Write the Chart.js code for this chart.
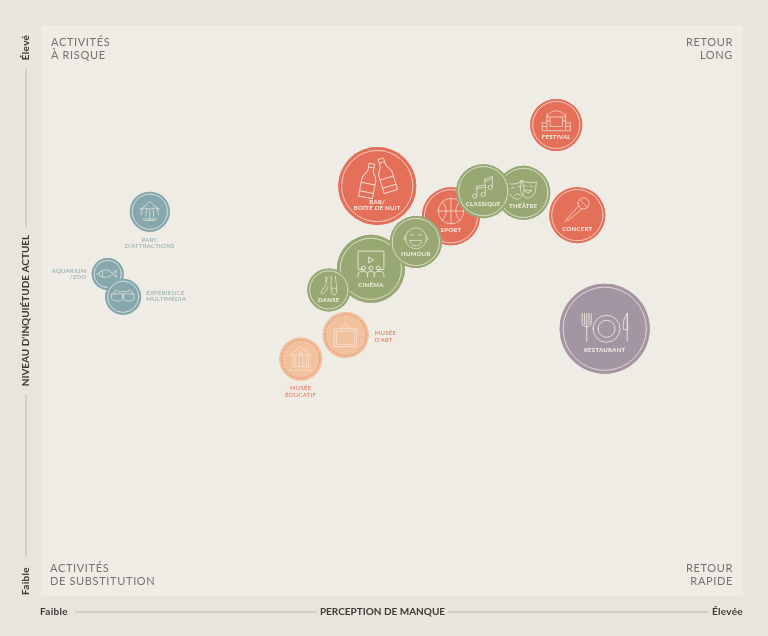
<!DOCTYPE html>
<html><head><meta charset="utf-8">
<style>html,body{margin:0;padding:0;background:#e9e5dd}canvas{display:block}</style>
<script src="https://cdn.jsdelivr.net/npm/chart.js@4"></script>
</head><body><canvas id="c" width="768" height="636"></canvas>
<script>
// Series, in paint order inside each group
const greenNames = ["THÉÂTRE","CLASSIQUE","CINÉMA","HUMOUR","DANSE"];
const greenX = [68.7,63.0,47.0,53.4,41.0];
const greenY = [70.6,70.9,57.3,62.0,53.6];
const greenR = [27,27,34,26,21.5];
const redNames = ["FESTIVAL","BAR/\nBOÎTE DE NUIT","SPORT","CONCERT"];
const redX = [73.4,47.9,58.4,76.4];
const redY = [82.5,71.8,66.5,66.7];
const redR = [26,39,29,28];
const blueNames = ["PARC\nD'ATTRACTIONS","AQUARIUM\n/ZOO","EXPÉRIENCE\nMULTIMÉDIA"];
const blueX = [15.5,9.5,11.7];
const blueY = [67.3,56.4,52.4];
const blueR = [20,16,18];
const orangeNames = ["MUSÉE\nD'ART","MUSÉE\nÉDUCATIF"];
const orangeX = [43.4,37.0];
const orangeY = [45.7,41.5];
const orangeR = [23,21.5];
const purpleNames = ["RESTAURANT"];
const purpleX = [80.3];
const purpleY = [46.8];
const purpleR = [45];

const FONT = 'Lato, "Open Sans", sans-serif';
const series = (names,xs,ys,rs,color) => ({
  names, backgroundColor:color, borderWidth:0, hoverRadius:0,
  data: names.map((n,i)=>({x:xs[i],y:ys[i],r:rs[i]}))
});
const circ=(x,y,r)=>`M${x-r} ${y}a${r} ${r} 0 1 0 ${2*r} 0a${r} ${r} 0 1 0 ${-2*r} 0Z`;
const bottle="M-3.5 -22H3.5V-13C3.5 -9 9 -7 9 -1V22H-9V-1C-9 -7 -3.5 -9 -3.5 -13Z M-9 4H9M-9 15H9M-3.5 -17H3.5";
const mask="M-14 -13C-5 -9 5 -9 14 -13V2C14 12 6 18 0 19C-6 18 -14 12 -14 2Z M-9 -3q3 -3 6 0M3 -3q3 -3 6 0";
// Decorative glyphs, in a space where the bubble radius is 50: [path, dx, dy, rotation]
const icons = {
 "FESTIVAL":[["M-18 -16C-10 -31 10 -31 18 -16ZM-18 -22V8M18 -22V8M-12 -14V3H12V-14M-27 -4H-18M18 -4H27M-27 -4V11H27V-4M-27 3H-18M18 3H27M-18 -8H-13M13 -8H18",0,0,0]],
 "BAR/\nBOÎTE DE NUIT":[[bottle,-11,-7,11],[bottle,11,-14,-17]],
 "SPORT":[[circ(0,-9,22)+"M0 -31V13M-22 -9H22M-15 -25C-6 -15 -6 -3 -15 7M15 -25C6 -15 6 -3 15 7",0,0,0]],
 "CONCERT":[[circ(11,-21,10)+"M4 -28L18 -14M3 -17L-19 7L-17 10L8 -11M-19 8L-23 12",0,0,0]],
 "THÉÂTRE":[[mask+"M-5 12Q0 6 5 12",-13,-7,-10],[mask+"M-7 5Q0 13 7 5Z",9,-9,6]],
 "CLASSIQUE":[[circ(-16,9,4)+circ(0,6,4)+circ(13,-7,4)+"M-12 9V-9M4 6V-11M-12 -9L4 -11M-12 -5L4 -7M17 -7V-27M3 -22L17 -27M3 -18L17 -23M3 -22V-12",0,0,0]],
 "HUMOUR":[[circ(0,-7,20)+"M-11 -13q4 -4 7 0M4 -13q4 -4 7 0M-11 -3H11C11 11 -11 11 -11 -3ZM-20 -12a5 5 0 0 0 0 9M20 -12a5 5 0 0 1 0 9",0,0,0]],
 "CINÉMA":[["M-10 1H-19V-26H19V1H10M-3 -17L4 -13L-3 -9Z"+circ(-11,-1,3)+circ(0,-1,3)+circ(11,-1,3)+"M-19 12V8C-19 4 -15 4 -11 4C-7 4 -5 5 -5 8V12M-5 8C-5 4 -3 4 0 4C3 4 5 4 5 8V12M5 8C5 5 7 4 11 4C15 4 19 4 19 8V12",0,0,0]],
 "DANSE":[["M-8 -30C-2 -20 -6 -10 -12 -4C-18 3 -20 8 -16 9C-10 10 -6 2 -2 -8M-2 -30L-8 -20M6 -32L5 -16C5 -8 6 0 7 6C9 14 16 14 18 6C19 -4 17 -20 15 -32M7 -4H18",0,0,0]],
 "RESTAURANT":[["M-25 -17V-6C-25 -1 -15 -1 -15 -6V-17M-20 -17V14M-22.5 -17V-5M-17.5 -17V-5"+circ(2,0,15)+circ(2,0,9.5)+"M25 -17C21 -12 20 -5 21 1H25ZM25 -17V14",0,0,0]],
 "PARC\nD'ATTRACTIONS":[["M-24 -6C-12 -14 -5 -20 0 -26C5 -20 12 -14 24 -6C16 -10 8 -10 0 -6C-8 -10 -16 -10 -24 -6ZM-18 -8L-22 8M-8 -8L-10 12M0 -6V18M8 -8L10 12M18 -8L22 8M-18 18H18M-12 22H12",0,0,0]],
 "AQUARIUM\n/ZOO":[["M-32 0C-20 -16 5 -16 14 -2L28 -12L24 -1L28 10L14 1C5 14 -20 14 -32 0ZM-18 -8C-14 -3 -14 3 -18 8"+circ(-25,-2,1.5),0,0,0]],
 "EXPÉRIENCE\nMULTIMÉDIA":[["M-32 -8H-2V6C-2 14 -28 14 -32 6ZM2 -8H30V6C28 14 2 14 2 6ZM-2 -2H2M-26 -8C-26 -20 -14 -20 -12 -14H12C14 -20 26 -20 26 -8",0,0,0]],
 "MUSÉE\nD'ART":[["M-24 -14H24V25H-24ZM-19 -9H19V20H-19ZM-10 -14L0 -25L10 -14",0,0,0]],
 "MUSÉE\nÉDUCATIF":[["M-23 -10L0 -28L23 -10Z"+circ(0,-15,3)+"M-18 -8V16M-13 -8V16M-4 -8V16M4 -8V16M13 -8V16M18 -8V16M-23 18H23M-26 26H26",0,0,0]]
};
// Captions that sit outside their bubble: [align, dx, dy of the first line]
const outside = {
 "PARC\nD'ATTRACTIONS":["center",0,28],
 "AQUARIUM\n/ZOO":["right",-21,-3],
 "EXPÉRIENCE\nMULTIMÉDIA":["left",23,-4],
 "MUSÉE\nD'ART":["left",29,-2],
 "MUSÉE\nÉDUCATIF":["center",0,29]
};
const inside = {"BAR/\nBOÎTE DE NUIT":0.41};

function decorate(ctx,name,el,r,color){
  const {x,y}=el.getProps(['x','y'],true);
  const muted = color==='#86a8ad'?'#8fa9ac':'#e5705a';
  ctx.save();
  ctx.lineCap='round';ctx.lineJoin='round';
  const isOrange=color==='#f2c19e';
  ctx.strokeStyle=isOrange?'rgba(229,112,90,0.85)':'rgba(241,235,226,0.85)';
  ctx.lineWidth=isOrange?0.7:0.9;
  if(isOrange)ctx.setLineDash([2,2]);
  ctx.beginPath();ctx.arc(x,y,r-(r>30?3.4:2.4),0,Math.PI*2);ctx.stroke();
  ctx.setLineDash([]);
  const u=r/50;
  ctx.strokeStyle=isOrange?'rgba(249,232,218,0.85)':'rgba(241,235,226,0.85)';
  (icons[name]||[]).forEach(([d,dx,dy,rot])=>{
    ctx.save();ctx.translate(x,y);ctx.scale(u,u);ctx.translate(dx,dy);ctx.rotate(rot*Math.PI/180);
    ctx.lineWidth=(r>30?1:0.8)/u;ctx.stroke(new Path2D(d));ctx.restore();
  });
  const lines=name.split('\n');
  ctx.font='700 6px '+FONT;ctx.textBaseline='middle';ctx.letterSpacing='0.3px';
  const o=outside[name];
  if(o){
    ctx.font='400 6px '+FONT;ctx.fillStyle=muted;ctx.textAlign=o[0];
    lines.forEach((t,i)=>ctx.fillText(t,x+o[1],y+o[2]+i*6.6));
  }else{
    ctx.fillStyle='#f6f0e8';ctx.textAlign='center';
    const f=inside[name]||0.48;
    lines.forEach((t,i)=>ctx.fillText(t,x,y+f*r+i*6.5));
  }
  ctx.restore();
}

const framePlugin={
  id:'frame',
  beforeDatasetsDraw(chart){
    const {ctx,chartArea:a}=chart;
    ctx.save();ctx.fillStyle='#efebe5';ctx.fillRect(a.left,a.top,a.right-a.left,a.bottom-a.top);
    ctx.fillStyle='#75736f';ctx.font='400 11px '+FONT;ctx.letterSpacing='0.65px';ctx.textBaseline='middle';
    ctx.textAlign='left';
    ctx.fillText('ACTIVITÉS',51,42);ctx.fillText('À RISQUE',51,55);
    ctx.fillText('ACTIVITÉS',50,568);ctx.fillText('DE SUBSTITUTION',50,581);
    ctx.textAlign='right';
    ctx.fillText('RETOUR',733,42);ctx.fillText('LONG',733,55);
    ctx.fillText('RETOUR',733,568);ctx.fillText('RAPIDE',733,581);
    ctx.letterSpacing='0px';
    ctx.strokeStyle='#bdb9b0';ctx.lineWidth=1;
    ctx.beginPath();
    ctx.moveTo(75,612);ctx.lineTo(317,612);ctx.moveTo(448,612);ctx.lineTo(708,612);
    ctx.moveTo(26,69);ctx.lineTo(26,227);ctx.moveTo(26,394);ctx.lineTo(26,556);
    ctx.stroke();
    ctx.fillStyle='#3c3b38';ctx.font='700 10px '+FONT;
    ctx.textAlign='center';ctx.fillText('PERCEPTION DE MANQUE',382.5,612);
    ctx.letterSpacing='0.3px';
    ctx.textAlign='left';ctx.fillText('Faible',40,612);
    ctx.textAlign='right';ctx.fillText('Élevée',743,612);
    ctx.translate(26,0);ctx.rotate(-Math.PI/2);
    ctx.textAlign='center';ctx.fillText('Élevé',-47.5,0);ctx.fillText('Faible',-581,0);
    ctx.restore();
  },
  afterDatasetDraw(chart,args){
    const {ctx}=chart, ds=chart.data.datasets[args.index], meta=args.meta;
    meta.data.forEach((el,i)=>{
      el.draw(ctx,chart.chartArea);
      decorate(ctx,ds.names[i],el,ds.data[i].r,ds.backgroundColor);
    });
  }
};

new Chart(document.getElementById('c'),{
  type:'bubble',
  data:{datasets:[
    series(greenNames,greenX,greenY,greenR,'#98a872'),
    series(orangeNames,orangeX,orangeY,orangeR,'#f2c19e'),
    series(blueNames,blueX,blueY,blueR,'#86a8ad'),
    series(purpleNames,purpleX,purpleY,purpleR,'#a495a2'),
    series(redNames,redX,redY,redR,'#e5705a')
  ]},
  plugins:[framePlugin],
  options:{
    responsive:false,animation:false,
    layout:{autoPadding:false,padding:{top:25,right:25,left:0,bottom:0}},
    plugins:{legend:{display:false},tooltip:{enabled:false}},
    events:[],
    scales:{
      x:{min:0,max:100,grid:{display:false},border:{display:false},ticks:{display:false},
         afterFit:s=>{s.height=40}},
      y:{min:0,max:100,grid:{display:false},border:{display:false},ticks:{display:false},
         afterFit:s=>{s.width=41},
         title:{display:true,text:"NIVEAU D'INQUIÉTUDE ACTUEL",color:'#3c3b38',font:{family:FONT,size:10,weight:'700'},padding:{top:20,bottom:0}}}
    }
  }
});
</script></body></html>
